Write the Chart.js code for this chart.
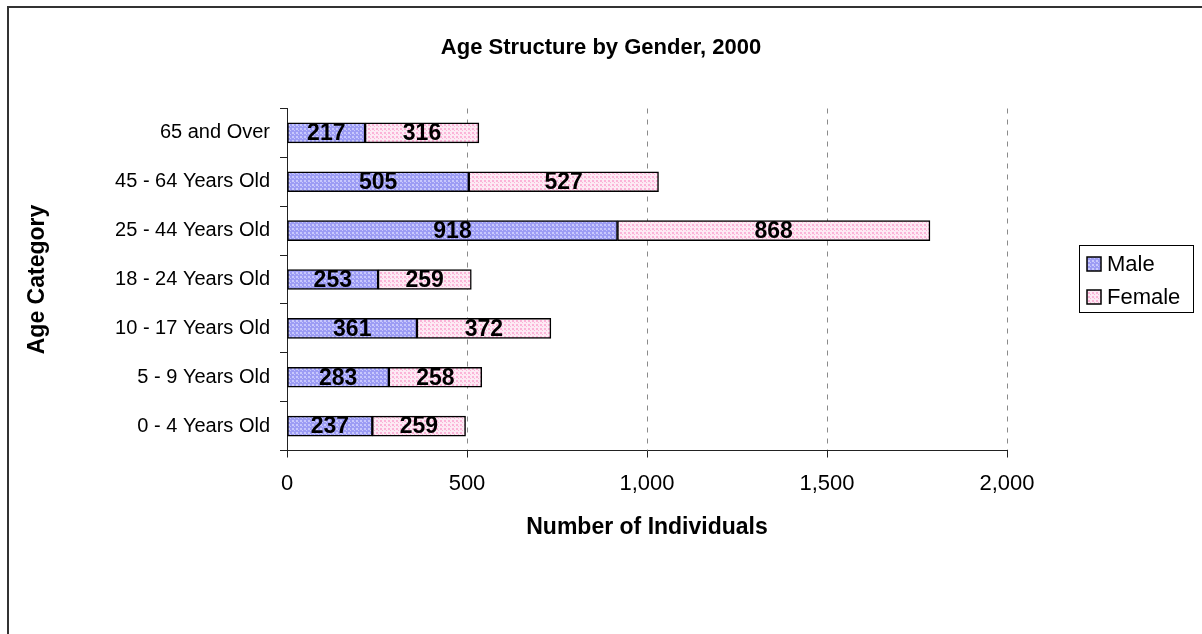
<!DOCTYPE html>
<html>
<head>
<meta charset="utf-8">
<title>Age Structure by Gender, 2000</title>
<script src="https://cdn.jsdelivr.net/npm/chart.js@4"></script>
<style>
  html, body { margin: 0; padding: 0; background: #fff; }
  canvas { display: block; }
</style>
</head>
<body>
<canvas id="ageChart" width="1202" height="634"></canvas>
<script>
// Data (bottom to top on the chart)
const ageCategories = ['0 - 4 Years Old', '5 - 9 Years Old', '10 - 17 Years Old', '18 - 24 Years Old', '25 - 44 Years Old', '45 - 64 Years Old', '65 and Over'];
const maleCounts = [237, 283, 361, 253, 918, 505, 217];
const femaleCounts = [259, 258, 372, 259, 868, 527, 316];
const seriesNames = ['Male', 'Female'];
const xTicks = [0, 500, 1000, 1500, 2000];
const chartTitle = 'Age Structure by Gender, 2000';

const FONT = '"Liberation Sans", Arial, sans-serif';

// dotted fills like the old office charts
function makePattern(base, dot) {
    const c = document.createElement('canvas');
    c.width = 4; c.height = 4;
    const g = c.getContext('2d');
    g.fillStyle = base;
    g.fillRect(0, 0, 4, 4);
    g.fillStyle = dot;
    g.fillRect(0, 0, 2, 2);
    g.fillRect(2, 2, 1, 1);
    return g.createPattern(c, 'repeat');
}
const maleFill = makePattern('#9c9cf4', '#c8c8fc');
const femaleFill = makePattern('#fdeaf4', '#fbb4d8');

// Labels in the middle of each bar segment
const segmentLabels = {
    id: 'segmentLabels',
    afterDatasetsDraw(chart) {
        const ctx = chart.ctx;
        ctx.save();
        ctx.font = 'bold 23px ' + FONT;
        ctx.fillStyle = '#000';
        ctx.textAlign = 'center';
        ctx.textBaseline = 'middle';
        chart.data.datasets.forEach((ds, i) => {
            chart.getDatasetMeta(i).data.forEach((bar, j) => {
                ctx.fillText(ds.data[j], (bar.x + bar.base) / 2, bar.y + 1);
            });
        });
        ctx.restore();
    }
};

// Frame, title and legend box
const frameAndLegend = {
    id: 'frameAndLegend',
    afterDraw(chart) {
        const ctx = chart.ctx;
        ctx.save();
        ctx.strokeStyle = '#333';
        ctx.lineWidth = 2;
        ctx.beginPath();
        ctx.moveTo(8, 634);
        ctx.lineTo(8, 7);
        ctx.lineTo(1202, 7);
        ctx.stroke();

        ctx.fillStyle = '#000';
        ctx.font = 'bold 22px ' + FONT;
        ctx.textAlign = 'center';
        ctx.textBaseline = 'middle';
        ctx.fillText(chartTitle, 601, 48);

        ctx.lineWidth = 1;
        ctx.strokeStyle = '#000';
        ctx.strokeRect(1079.5, 245.5, 114, 67);
        ctx.font = '22px ' + FONT;
        ctx.textAlign = 'left';
        const fills = [maleFill, femaleFill];
        seriesNames.forEach((name, i) => {
            const y = 264 + i * 33;
            ctx.fillStyle = fills[i];
            ctx.fillRect(1087, y - 7, 14, 14);
            ctx.lineWidth = 1.5;
            ctx.strokeRect(1087, y - 7, 14, 14);
            ctx.fillStyle = '#000';
            ctx.fillText(name, 1107, y + 1);
        });
        ctx.restore();
    }
};

const ctx = document.getElementById('ageChart').getContext('2d');
const ageChart = new Chart(ctx, {
    type: 'bar',
    data: {
        labels: ageCategories,
        datasets: [
            {
                label: seriesNames[0],
                data: maleCounts,
                backgroundColor: maleFill,
                borderColor: '#000',
                borderWidth: 1.5,
                borderSkipped: false,
                barThickness: 20
            },
            {
                label: seriesNames[1],
                data: femaleCounts,
                backgroundColor: femaleFill,
                borderColor: '#000',
                borderWidth: 1.5,
                borderSkipped: false,
                barThickness: 20
            }
        ]
    },
    options: {
        indexAxis: 'y',
        responsive: false,
        animation: false,
        layout: { padding: { left: 0, right: 195, top: 108.5, bottom: 0 } },
        scales: {
            x: {
                stacked: true,
                min: 0,
                max: 2000,
                afterBuildTicks: axis => { axis.ticks = xTicks.map(v => ({ value: v })); },
                afterFit: axis => { axis.height = 634 - 450.5; },
                border: { display: true, color: '#222', width: 1, dash: [5, 6] },
                grid: {
                    color: c => c.tick && c.tick.value === 0 ? 'rgba(0,0,0,0)' : '#8a8a8a',
                    tickColor: '#222',
                    tickBorderDash: [],
                    tickLength: 7,
                    lineWidth: 1
                },
                ticks: {
                    color: '#000',
                    padding: 13,
                    font: { family: FONT, size: 22 },
                    callback: v => v.toLocaleString('en-US')
                },
                title: {
                    display: true,
                    text: 'Number of Individuals',
                    color: '#000',
                    font: { family: FONT, size: 23, weight: 'bold' },
                    padding: { top: 0, bottom: 93 }
                }
            },
            y: {
                stacked: true,
                reverse: true,
                afterFit: axis => { axis.width = 287; },
                border: { display: true, color: '#222', width: 1 },
                grid: {
                    drawOnChartArea: false,
                    tickColor: '#222',
                    tickLength: 7
                },
                ticks: {
                    color: '#000',
                    padding: 10,
                    font: { family: FONT, size: 20 }
                },
                title: {
                    display: true,
                    text: 'Age Category',
                    color: '#000',
                    font: { family: FONT, size: 23, weight: 'bold' },
                    padding: { top: 24, bottom: 0 }
                }
            }
        },
        plugins: {
            legend: { display: false },
            tooltip: { enabled: false },
            title: { display: false }
        }
    },
    plugins: [segmentLabels, frameAndLegend]
});
</script>
</body>
</html>
